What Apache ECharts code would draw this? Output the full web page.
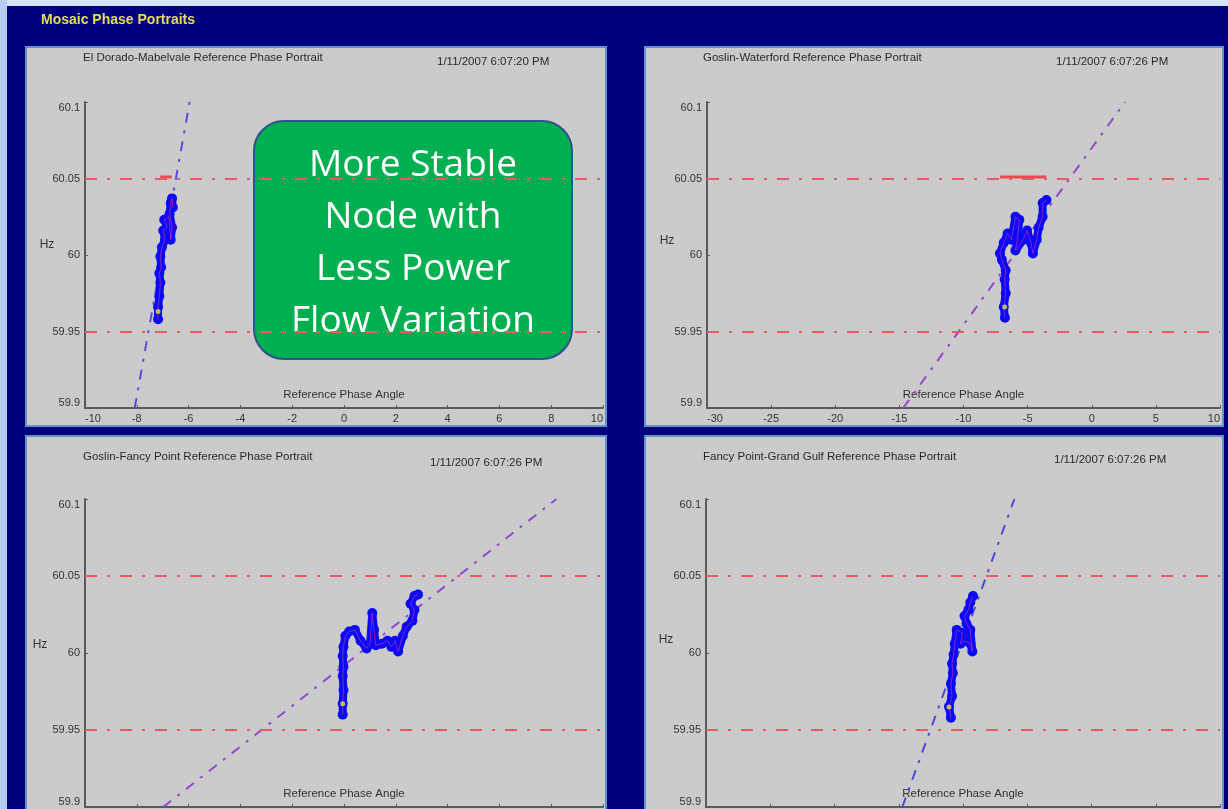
<!DOCTYPE html>
<html><head><meta charset="utf-8">
<script src="https://cdn.jsdelivr.net/npm/echarts@6/dist/echarts.min.js"></script>
<style>html,body{margin:0;padding:0;background:#00007e;overflow:hidden}#c{width:1228px;height:809px}</style>
</head><body><div id="c"></div>
<script>
// ---------------- data ----------------
const pageTitle = 'Mosaic Phase Portraits';
const panelTitles = [
  'El Dorado-Mabelvale Reference Phase Portrait',
  'Goslin-Waterford Reference Phase Portrait',
  'Goslin-Fancy Point Reference Phase Portrait',
  'Fancy Point-Grand Gulf Reference Phase Portrait'
];
const panelDates = ['1/11/2007 6:07:20 PM', '1/11/2007 6:07:26 PM', '1/11/2007 6:07:26 PM', '1/11/2007 6:07:26 PM'];
const xAxisName = 'Reference Phase Angle';
const yAxisName = 'Hz';
const xMins = [-10, -30, -10, -30];
const xMaxs = [10, 10, 10, 10];
const xSteps = [2, 5, 2, 5];
const yMinHz = 59.9, yMaxHz = 60.1, yStepHz = 0.05;
const limitHigh = 60.05, limitLow = 59.95;

const refLineTL = [[-8.08, 59.9], [-5.96, 60.1]];
const refLineTR = [[-14.7, 59.9], [2.6, 60.1]];
const refLineBL = [[-6.98, 59.9], [8.2, 60.1]];
const refLineBR = [[-14.72, 59.9], [-6.0, 60.1]];

const trajTL = [[-7.18,59.958],[-7.18,59.966],[-7.13,59.973],[-7.09,59.982],[-7.13,59.988],[-7.06,59.992],[-7.09,59.999],[-7.03,60.005],[-6.91,60.010],[-6.98,60.016],[-6.83,60.018],[-6.94,60.023],[-6.76,60.025],[-6.69,60.010],[-6.64,60.018],[-6.73,60.027],[-6.69,60.034],[-6.64,60.037],[-6.61,60.031]];
const trajTR = [[-6.77,59.959],[-6.86,59.966],[-6.71,59.975],[-6.79,59.984],[-6.71,59.990],[-7.01,59.997],[-7.16,60.001],[-6.86,60.008],[-6.56,60.014],[-6.26,60.010],[-5.95,60.025],[-5.65,60.023],[-5.80,60.010],[-5.95,60.003],[-5.34,60.010],[-5.04,60.016],[-4.74,60.008],[-4.59,60.001],[-4.29,60.010],[-4.14,60.018],[-3.83,60.025],[-3.83,60.034],[-3.53,60.036]];
const trajBL = [[-0.05,59.960],[-0.05,59.967],[-0.02,59.976],[-0.05,59.985],[-0.02,59.991],[-0.05,59.998],[-0.02,60.004],[0.05,60.011],[0.20,60.014],[0.42,60.015],[0.64,60.008],[0.87,60.003],[1.01,60.006],[1.09,60.026],[1.16,60.015],[1.23,60.005],[1.46,60.006],[1.68,60.008],[1.83,60.004],[1.97,60.008],[2.09,60.001],[2.27,60.011],[2.42,60.017],[2.64,60.021],[2.72,60.028],[2.57,60.032],[2.72,60.037],[2.86,60.038]];
const trajBR = [[-10.94,59.958],[-11.09,59.965],[-10.85,59.972],[-10.94,59.980],[-10.79,59.987],[-10.85,59.993],[-10.73,59.999],[-10.64,60.006],[-10.49,60.015],[-10.04,60.013],[-10.19,60.006],[-9.88,60.008],[-9.43,60.006],[-9.27,60.001],[-9.43,60.015],[-9.73,60.019],[-9.88,60.024],[-9.58,60.028],[-9.43,60.033],[-9.22,60.037]];

const currentTL = [[-7.18, 59.963]];
const currentTR = [[-6.79, 59.966]];
const currentBL = [[-0.05, 59.967]];
const currentBR = [[-11.09, 59.965]];

const peakTL = [[-7.1, 60.051], [-6.65, 60.051]];
const peakTR = [[-7.16, 60.051], [-3.53, 60.051]];

const noteLines = ['More Stable', 'Node with', 'Less Power', 'Flow Variation'];

// ---------------- layout / style ----------------
const FONT = 'Liberation Sans, Arial, sans-serif';
const grids = [
  {left: 85, top: 102, width: 518, height: 306},
  {left: 707, top: 102, width: 513, height: 306},
  {left: 85, top: 499, width: 518, height: 308},
  {left: 706, top: 499, width: 514, height: 308}
];
const panels = [
  {x: 26, y: 47, w: 580, h: 379},
  {x: 645, y: 47, w: 578, h: 379},
  {x: 26, y: 436, w: 580, h: 380},
  {x: 645, y: 436, w: 578, h: 380}
];
const titlePos = [[83, 58], [703, 58], [83, 457], [703, 457]];
const datePos = [[437, 62], [1056, 62], [430, 463], [1054, 460]];
const hzPos = [[47, 245], [667, 241], [40, 645], [666, 640]];
const refColors = ['#5a4be0', '#9a44c8', '#9348d0', '#4b48d8'];

const refLines = [refLineTL, refLineTR, refLineBL, refLineBR];
const trajs = [trajTL, trajTR, trajBL, trajBR];
const currents = [currentTL, currentTR, currentBL, currentBR];
const peaks = [peakTL, peakTR, null, null];

const xAxes = [], yAxes = [], series = [], graphics = [];

graphics.push({type: 'rect', z: -20, shape: {x: 0, y: 0, width: 1228, height: 6}, style: {fill: '#d6e4f7'}, silent: true});
graphics.push({type: 'rect', z: -20, shape: {x: 0, y: 0, width: 7, height: 809}, style: {fill: '#b4cdef'}, silent: true});
graphics.push({type: 'text', z: 5, x: 41, y: 20, style: {text: pageTitle, fill: '#e6dc5a', font: 'bold 14px ' + FONT, textVerticalAlign: 'middle'}});

for (let i = 0; i < 4; i++) {
  const p = panels[i];
  graphics.push({type: 'rect', z: -10, shape: {x: p.x, y: p.y, width: p.w, height: p.h}, style: {fill: '#cbcbcb', stroke: '#5f93c8', lineWidth: 2}, silent: true});
  graphics.push({type: 'text', z: 5, x: titlePos[i][0], y: titlePos[i][1], style: {text: panelTitles[i], fill: '#2a2a2a', font: '11.5px ' + FONT, textVerticalAlign: 'middle'}});
  graphics.push({type: 'text', z: 5, x: datePos[i][0], y: datePos[i][1], style: {text: panelDates[i], fill: '#2a2a2a', font: '11.5px ' + FONT, textVerticalAlign: 'middle'}});
  graphics.push({type: 'text', z: 5, x: hzPos[i][0], y: hzPos[i][1], style: {text: yAxisName, fill: '#333', font: '12px ' + FONT, textAlign: 'center', textVerticalAlign: 'middle'}});

  xAxes.push({
    gridIndex: i, type: 'value', min: xMins[i], max: xMaxs[i], interval: xSteps[i],
    name: xAxisName, nameLocation: 'middle', nameGap: -19,
    nameTextStyle: {color: '#333', fontSize: 11.5, fontFamily: FONT},
    axisLine: {show: true, onZero: false, lineStyle: {color: '#5a5a5a', width: 2}},
    axisTick: {show: true, inside: true, length: 3, lineStyle: {color: '#5a5a5a'}},
    axisLabel: {color: '#333', fontSize: 11, fontFamily: FONT, margin: 5, alignMinLabel: 'left', alignMaxLabel: 'right'},
    splitLine: {show: false}
  });
  yAxes.push({
    gridIndex: i, type: 'value', min: yMinHz, max: yMaxHz, interval: yStepHz,
    axisLine: {show: true, onZero: false, lineStyle: {color: '#5a5a5a', width: 2}},
    axisTick: {show: true, inside: true, length: 3, lineStyle: {color: '#5a5a5a'}},
    axisLabel: {color: '#333', fontSize: 11, fontFamily: FONT, margin: 5, verticalAlignMinLabel: 'bottom', verticalAlignMaxLabel: 'top'},
    splitLine: {show: false}
  });

  series.push({
    type: 'line', xAxisIndex: i, yAxisIndex: i, data: refLines[i], symbol: 'none', z: 3,
    lineStyle: {color: refColors[i], width: 2, type: [10, 8, 3, 8]}, silent: true,
    markLine: {
      silent: true, symbol: 'none', label: {show: false},
      lineStyle: {color: '#ee5a62', width: 2, type: [12, 10, 3, 10]},
      data: [{yAxis: limitHigh}, {yAxis: limitLow}]
    }
  });
  if (peaks[i]) {
    series.push({type: 'line', xAxisIndex: i, yAxisIndex: i, data: peaks[i], symbol: 'none', z: 4,
      lineStyle: {color: '#ec4a52', width: 3}, silent: true});
  }
  series.push({
    type: 'line', xAxisIndex: i, yAxisIndex: i, data: trajs[i], z: 5,
    symbol: 'circle', symbolSize: 10, itemStyle: {color: '#0a0af8', borderWidth: 0},
    lineStyle: {color: '#0a0af8', width: 8, cap: 'round', join: 'round'}, silent: true
  });
  series.push({
    type: 'line', xAxisIndex: i, yAxisIndex: i, data: trajs[i], z: 6, symbol: 'none',
    lineStyle: {color: '#ff3a9a', width: 1, opacity: 0.5}, silent: true
  });
  series.push({
    type: 'scatter', xAxisIndex: i, yAxisIndex: i, data: currents[i], z: 7,
    symbol: 'circle', symbolSize: 5, itemStyle: {color: '#e8e040'}, silent: true
  });
}

graphics.push({
  type: 'group', z: 100,
  children: [
    {type: 'rect', shape: {x: 254, y: 121, width: 318, height: 238, r: 30}, style: {fill: '#00b050', stroke: '#2f528f', lineWidth: 2}},
    {type: 'text', x: 413, y: 243, style: {text: noteLines.join('\n'), fill: '#ffffff', font: '37px "Open Sans", "Noto Sans", sans-serif', lineHeight: 52, textAlign: 'center', textVerticalAlign: 'middle'}}
  ]
});

const chart = echarts.init(document.getElementById('c'), null, {renderer: 'canvas'});
chart.setOption({
  backgroundColor: '#00007e',
  animation: false,
  grid: grids.map(g => Object.assign({containLabel: false, outerBoundsMode: 'none'}, g)),
  xAxis: xAxes,
  yAxis: yAxes,
  series: series,
  graphic: graphics
});
</script></body></html>
